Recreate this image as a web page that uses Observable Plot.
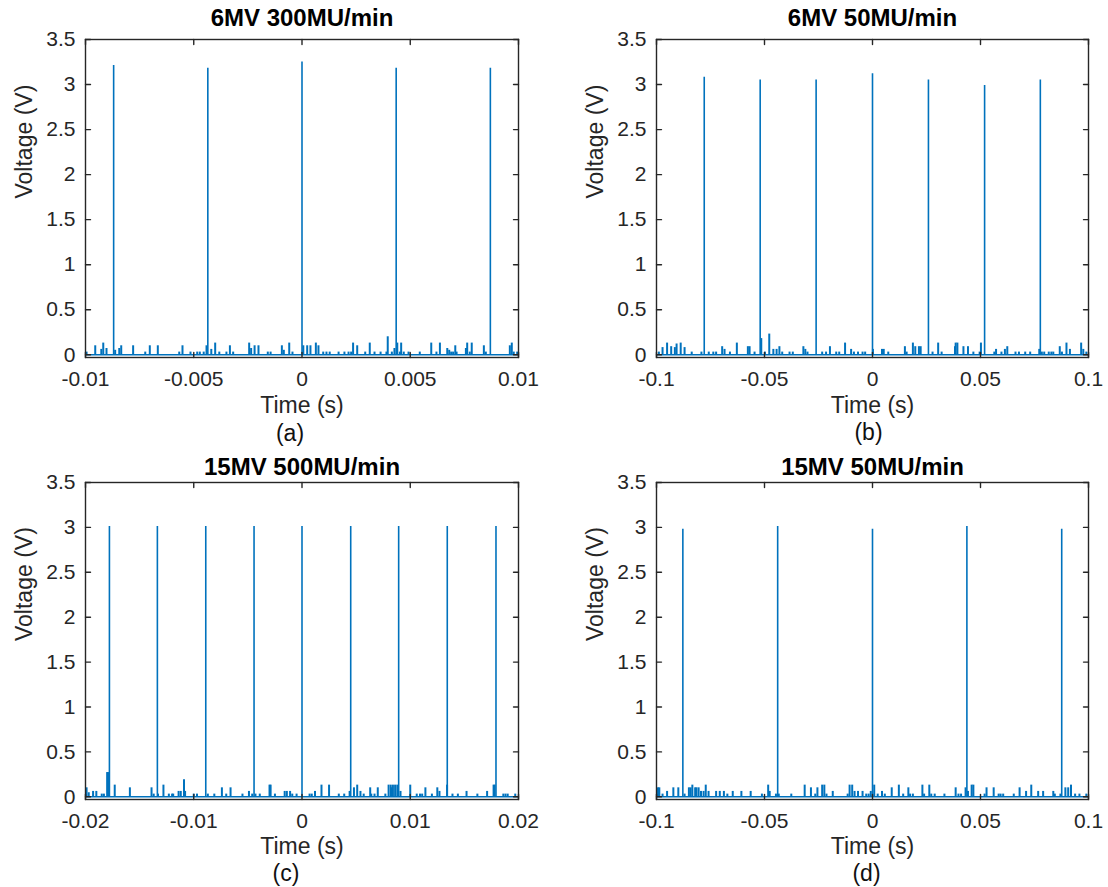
<!DOCTYPE html>
<html><head><meta charset="utf-8">
<script src="https://cdn.jsdelivr.net/npm/d3@7"></script>
<script src="https://cdn.jsdelivr.net/npm/@observablehq/plot@0.6"></script>
<style>
body{margin:0;background:#fff;}
#root{position:relative;width:1108px;height:887px;overflow:hidden;font-family:"Liberation Sans",Arial,Helvetica,sans-serif;}
.panel{position:absolute;}
</style></head><body><div id="root"></div>
<script>
// ---- text ----
const titles = ["6MV 300MU/min", "6MV 50MU/min", "15MV 500MU/min", "15MV 50MU/min"];
const captions = ["(a)", "(b)", "(c)", "(d)"];
const xLabelText = "Time (s)";
const yLabelText = "Voltage (V)";

// ---- ticks ----
const yTicks = [0, 0.5, 1, 1.5, 2, 2.5, 3, 3.5];
const yTickLabels = ["0", "0.5", "1", "1.5", "2", "2.5", "3", "3.5"];
const yDomain = [-0.03, 3.5];
const xDomainA = [-0.01, 0.01];
const xTicksA = [-0.01, -0.005, 0, 0.005, 0.01];
const xTickLabelsA = ["-0.01", "-0.005", "0", "0.005", "0.01"];
const xDomainB = [-0.1, 0.1];
const xTicksB = [-0.1, -0.05, 0, 0.05, 0.1];
const xTickLabelsB = ["-0.1", "-0.05", "0", "0.05", "0.1"];
const xDomainC = [-0.02, 0.02];
const xTicksC = [-0.02, -0.01, 0, 0.01, 0.02];
const xTickLabelsC = ["-0.02", "-0.01", "0", "0.01", "0.02"];
const xDomainD = [-0.1, 0.1];
const xTicksD = [-0.1, -0.05, 0, 0.05, 0.1];
const xTickLabelsD = ["-0.1", "-0.05", "0", "0.05", "0.1"];

// ---- signal baseline (V) ----
const baseline = [0];

// ---- (a) 6MV 300MU/min ----
const pulseTimesA = [-0.0087, -0.00435, 0, 0.00435, 0.0087];
const pulseHeightsA = [3.21, 3.18, 3.25, 3.18, 3.18];
const noiseTimesA = [-0.00995,-0.00955,-0.00927,-0.00918,-0.00903,-0.00863,-0.00844,-0.00835,-0.00780,-0.00724,-0.00703,-0.00666,-0.00567,-0.00552,-0.00515,-0.00484,-0.00472,-0.00454,-0.00441,-0.00419,-0.00401,-0.00382,-0.00349,-0.00333,-0.00318,-0.00244,-0.00235,-0.00219,-0.00201,-0.00158,-0.00145,-0.00093,-0.00084,-0.00059,-0.00044,0.00006,0.00024,0.00039,0.00064,0.00076,0.00098,0.00113,0.00128,0.00169,0.00196,0.00215,0.00227,0.00236,0.00255,0.00292,0.00313,0.00335,0.00363,0.00390,0.00396,0.00415,0.00427,0.00440,0.00452,0.00458,0.00470,0.00492,0.00544,0.00597,0.00621,0.00637,0.00671,0.00680,0.00689,0.00698,0.00708,0.00714,0.00757,0.00763,0.00775,0.00784,0.00840,0.00849,0.00960,0.00969,0.00978,0.00994];
const noiseHeightsA = [0.03,0.10,0.06,0.13,0.07,0.05,0.07,0.10,0.10,0.03,0.10,0.10,0.03,0.10,0.03,0.03,0.03,0.03,0.10,0.06,0.13,0.03,0.03,0.10,0.03,0.13,0.07,0.10,0.10,0.03,0.03,0.10,0.05,0.13,0.03,0.10,0.10,0.10,0.13,0.10,0.03,0.03,0.03,0.03,0.03,0.03,0.03,0.13,0.10,0.03,0.13,0.03,0.03,0.03,0.20,0.03,0.07,0.13,0.03,0.13,0.03,0.03,0.03,0.13,0.03,0.13,0.07,0.05,0.03,0.03,0.10,0.03,0.07,0.13,0.03,0.13,0.10,0.03,0.10,0.13,0.03,0.03];

// ---- (b) 6MV 50MU/min ----
const pulseTimesB = [-0.0779, -0.0520, -0.0261, 0, 0.0259, 0.0519, 0.0777];
const pulseHeightsB = [3.08, 3.05, 3.05, 3.12, 3.05, 2.99, 3.05];
const noiseTimesB = [-0.0989,-0.0972,-0.0951,-0.0932,-0.0915,-0.0907,-0.0888,-0.0870,-0.0837,-0.0792,-0.0758,-0.0737,-0.0724,-0.0696,-0.0685,-0.0660,-0.0628,-0.0577,-0.0569,-0.0546,-0.0515,-0.0498,-0.0478,-0.0459,-0.0444,-0.0431,-0.0418,-0.0384,-0.0369,-0.0320,-0.0311,-0.0301,-0.0233,-0.0215,-0.0197,-0.0168,-0.0154,-0.0127,-0.0099,-0.0086,-0.0067,-0.0046,-0.0034,0.0002,0.0044,0.0052,0.0073,0.0150,0.0158,0.0187,0.0198,0.0215,0.0223,0.0278,0.0304,0.0320,0.0382,0.0385,0.0393,0.0421,0.0442,0.0467,0.0496,0.0502,0.0564,0.0572,0.0597,0.0613,0.0624,0.0662,0.0678,0.0707,0.0730,0.0772,0.0784,0.0795,0.0816,0.0828,0.0837,0.0867,0.0877,0.0898,0.0914,0.0966,0.0976,0.0990];
const noiseHeightsB = [0.03,0.08,0.13,0.09,0.08,0.12,0.13,0.08,0.03,0.03,0.03,0.03,0.03,0.09,0.06,0.03,0.13,0.09,0.09,0.03,0.18,0.03,0.23,0.06,0.06,0.09,0.03,0.03,0.03,0.09,0.06,0.03,0.03,0.03,0.09,0.03,0.03,0.13,0.06,0.03,0.03,0.03,0.03,0.06,0.06,0.06,0.03,0.09,0.03,0.13,0.09,0.09,0.09,0.03,0.13,0.03,0.09,0.13,0.13,0.09,0.09,0.03,0.03,0.13,0.03,0.06,0.03,0.06,0.09,0.03,0.03,0.03,0.03,0.06,0.03,0.03,0.03,0.03,0.03,0.09,0.03,0.13,0.06,0.13,0.06,0.03];

// ---- (c) 15MV 500MU/min ----
const pulseTimesC = [-0.01779, -0.01336, -0.00889, -0.00443, 0, 0.0045, 0.00893, 0.01342, 0.01792];
const pulseHeightsC = [3.01, 3.01, 3.01, 3.01, 3.01, 3.01, 3.01, 3.01, 3.01];
const noiseTimesC = [-0.0199,-0.0197,-0.0193,-0.0190,-0.0185,-0.0183,-0.0180,-0.0179,-0.0173,-0.0159,-0.0139,-0.0137,-0.0133,-0.0128,-0.0123,-0.0120,-0.0119,-0.0114,-0.0112,-0.0109,-0.0108,-0.0100,-0.0097,-0.0087,-0.0081,-0.0074,-0.0070,-0.0066,-0.0055,-0.0049,-0.0046,-0.0043,-0.0039,-0.0030,-0.0029,-0.0025,-0.0016,-0.0014,-0.0011,-0.0009,-0.0005,0.0007,0.0009,0.0012,0.0018,0.0025,0.0034,0.0039,0.0044,0.0048,0.0051,0.0054,0.0057,0.0063,0.0064,0.0067,0.0070,0.0077,0.0080,0.0082,0.0083,0.0084,0.0086,0.0088,0.0091,0.0100,0.0106,0.0109,0.0111,0.0114,0.0120,0.0125,0.0127,0.0134,0.0139,0.0144,0.0152,0.0162,0.0171,0.0177,0.0178,0.0186,0.0188,0.0190,0.0197];
const noiseHeightsC = [0.10,0.045,0.06,0.06,0.03,0.03,0.27,0.27,0.13,0.10,0.10,0.03,0.03,0.13,0.03,0.03,0.03,0.06,0.06,0.19,0.06,0.03,0.03,0.03,0.03,0.10,0.03,0.10,0.03,0.06,0.03,0.03,0.03,0.13,0.13,0.03,0.06,0.06,0.06,0.03,0.03,0.03,0.03,0.06,0.13,0.13,0.03,0.03,0.06,0.10,0.13,0.06,0.03,0.10,0.03,0.03,0.10,0.03,0.13,0.13,0.10,0.13,0.13,0.13,0.06,0.13,0.03,0.03,0.03,0.10,0.03,0.10,0.06,0.13,0.03,0.03,0.06,0.03,0.06,0.13,0.13,0.03,0.03,0.03,0.03];

// ---- (d) 15MV 50MU/min ----
const pulseTimesD = [-0.0878, -0.0439, 0, 0.0437, 0.0876];
const pulseHeightsD = [2.98, 3.01, 2.98, 3.01, 2.98];
const noiseTimesD = [-0.0993,-0.0987,-0.0972,-0.0951,-0.0922,-0.0899,-0.0870,-0.0850,-0.0842,-0.0834,-0.0821,-0.0815,-0.0805,-0.0794,-0.0782,-0.0772,-0.0759,-0.0724,-0.0707,-0.0688,-0.0672,-0.0647,-0.0607,-0.0564,-0.0512,-0.0483,-0.0476,-0.0447,-0.0434,-0.0376,-0.0314,-0.0285,-0.0265,-0.0255,-0.0233,-0.0223,-0.0213,-0.0184,-0.0115,-0.0106,-0.0094,-0.0083,-0.0067,-0.0046,-0.0029,-0.0018,-0.0008,0.0008,0.0024,0.0044,0.0057,0.0089,0.0122,0.0142,0.0166,0.0174,0.0187,0.0231,0.0239,0.0263,0.0272,0.0288,0.0333,0.0385,0.0398,0.0410,0.0431,0.0442,0.0459,0.0467,0.0519,0.0528,0.0561,0.0584,0.0593,0.0605,0.0654,0.0681,0.0711,0.0735,0.0767,0.0790,0.0837,0.0844,0.0870,0.0893,0.0906,0.0919,0.0938,0.0958,0.0990];
const noiseHeightsD = [0.10,0.10,0.03,0.06,0.10,0.10,0.03,0.10,0.10,0.13,0.10,0.10,0.10,0.06,0.06,0.13,0.06,0.06,0.06,0.06,0.03,0.06,0.06,0.06,0.03,0.13,0.06,0.03,0.03,0.03,0.13,0.10,0.03,0.10,0.13,0.13,0.03,0.06,0.03,0.13,0.13,0.06,0.06,0.06,0.03,0.03,0.06,0.13,0.03,0.06,0.03,0.10,0.13,0.03,0.10,0.03,0.03,0.13,0.03,0.13,0.03,0.03,0.03,0.10,0.03,0.03,0.10,0.06,0.13,0.13,0.03,0.10,0.10,0.03,0.03,0.03,0.03,0.10,0.06,0.13,0.06,0.06,0.06,0.03,0.03,0.10,0.10,0.13,0.03,0.03,0.03];

// ---- style / layout ----
const BLUE = "#0072BD";
const AX = "#262626";
const FONT = "'Liberation Sans', Arial, Helvetica, sans-serif";
const TICK_FS = 21, LABEL_FS = 23, TITLE_FS = 24;

const panels = [
  {left: 0, top: 0, w: 554, h: 443, mL: 85, mR: 36, mT: 39, mB: 86, titleDy: -21, xlabDy: 48, capDy: 76, capDx: -12,
   xDomain: xDomainA, xTicks: xTicksA, xLabels: xTickLabelsA, pt: pulseTimesA, ph: pulseHeightsA, nt: noiseTimesA, nh: noiseHeightsA},
  {left: 554, top: 0, w: 554, h: 443, mL: 102, mR: 20, mT: 39, mB: 86, titleDy: -21, xlabDy: 48, capDy: 75, capDx: -4,
   xDomain: xDomainB, xTicks: xTicksB, xLabels: xTickLabelsB, pt: pulseTimesB, ph: pulseHeightsB, nt: noiseTimesB, nh: noiseHeightsB},
  {left: 0, top: 443, w: 554, h: 444, mL: 85, mR: 36, mT: 39, mB: 88, titleDy: -15, xlabDy: 47, capDy: 74, capDx: -16,
   xDomain: xDomainC, xTicks: xTicksC, xLabels: xTickLabelsC, pt: pulseTimesC, ph: pulseHeightsC, nt: noiseTimesC, nh: noiseHeightsC},
  {left: 554, top: 443, w: 554, h: 444, mL: 102, mR: 20, mT: 39, mB: 88, titleDy: -15, xlabDy: 47, capDy: 74, capDx: -6,
   xDomain: xDomainD, xTicks: xTicksD, xLabels: xTickLabelsD, pt: pulseTimesD, ph: pulseHeightsD, nt: noiseTimesD, nh: noiseHeightsD}
];

const tickShape = {draw(ctx, l) { ctx.moveTo(0, 0); ctx.lineTo(0, -l); }};
const TL = 5;

function makePanel(cfg, i) {
  const pulses = cfg.pt.map((t, k) => ({t, v: cfg.ph[k]}));
  const noise = cfg.nt.map((t, k) => ({t, v: cfg.nh[k]}));
  const fmtX = d => cfg.xLabels[cfg.xTicks.indexOf(d)];
  const fmtY = d => yTickLabels[yTicks.indexOf(d)];
  return Plot.plot({
    width: cfg.w, height: cfg.h,
    marginLeft: cfg.mL, marginRight: cfg.mR, marginTop: cfg.mT, marginBottom: cfg.mB,
    style: {fontFamily: FONT, fontSize: TICK_FS + "px", color: AX, background: "transparent", overflow: "visible"},
    x: {domain: cfg.xDomain, label: null},
    y: {domain: yDomain, label: null},
    marks: [
      Plot.ruleY(baseline, {y: d => d, stroke: BLUE, strokeWidth: 1.5}),
      Plot.ruleX(noise, {x: "t", y1: d => 0, y2: "v", stroke: BLUE, strokeWidth: 2}),
      Plot.ruleX(pulses, {x: "t", y1: d => 0, y2: "v", stroke: BLUE, strokeWidth: 1.6}),
      Plot.frame({stroke: AX, strokeWidth: 1.4}),
      Plot.axisX({ticks: cfg.xTicks, tickSize: 0, tickPadding: 14, tickFormat: fmtX, label: null, fontSize: TICK_FS}),
      Plot.axisY({ticks: yTicks, tickSize: 0, tickPadding: 10, tickFormat: fmtY, label: null, fontSize: TICK_FS}),
      Plot.vector(cfg.xTicks, {x: d => d, frameAnchor: "bottom", length: TL, rotate: 0, anchor: "start", shape: tickShape, stroke: AX, strokeWidth: 1.4}),
      Plot.vector(cfg.xTicks, {x: d => d, frameAnchor: "top", length: TL, rotate: 180, anchor: "start", shape: tickShape, stroke: AX, strokeWidth: 1.4}),
      Plot.vector(yTicks, {y: d => d, frameAnchor: "left", length: TL, rotate: 90, anchor: "start", shape: tickShape, stroke: AX, strokeWidth: 1.4}),
      Plot.vector(yTicks, {y: d => d, frameAnchor: "right", length: TL, rotate: -90, anchor: "start", shape: tickShape, stroke: AX, strokeWidth: 1.4}),
      Plot.text([titles[i]], {text: d => d, frameAnchor: "top", lineAnchor: "middle", dy: cfg.titleDy, fontWeight: "bold", fontSize: TITLE_FS, fill: "#000"}),
      Plot.text([xLabelText], {text: d => d, frameAnchor: "bottom", lineAnchor: "middle", dy: cfg.xlabDy, fontSize: LABEL_FS, fill: AX}),
      Plot.text([yLabelText], {text: d => d, frameAnchor: "left", lineAnchor: "middle", dx: -61, rotate: -90, fontSize: LABEL_FS, fill: AX}),
      Plot.text([captions[i]], {text: d => d, frameAnchor: "bottom", lineAnchor: "middle", dy: cfg.capDy, dx: cfg.capDx, fontSize: LABEL_FS, fill: "#111"})
    ]
  });
}

const root = document.getElementById("root");
panels.forEach((cfg, i) => {
  const d = document.createElement("div");
  d.className = "panel";
  d.style.left = cfg.left + "px";
  d.style.top = cfg.top + "px";
  d.appendChild(makePanel(cfg, i));
  root.appendChild(d);
});
</script></body></html>
